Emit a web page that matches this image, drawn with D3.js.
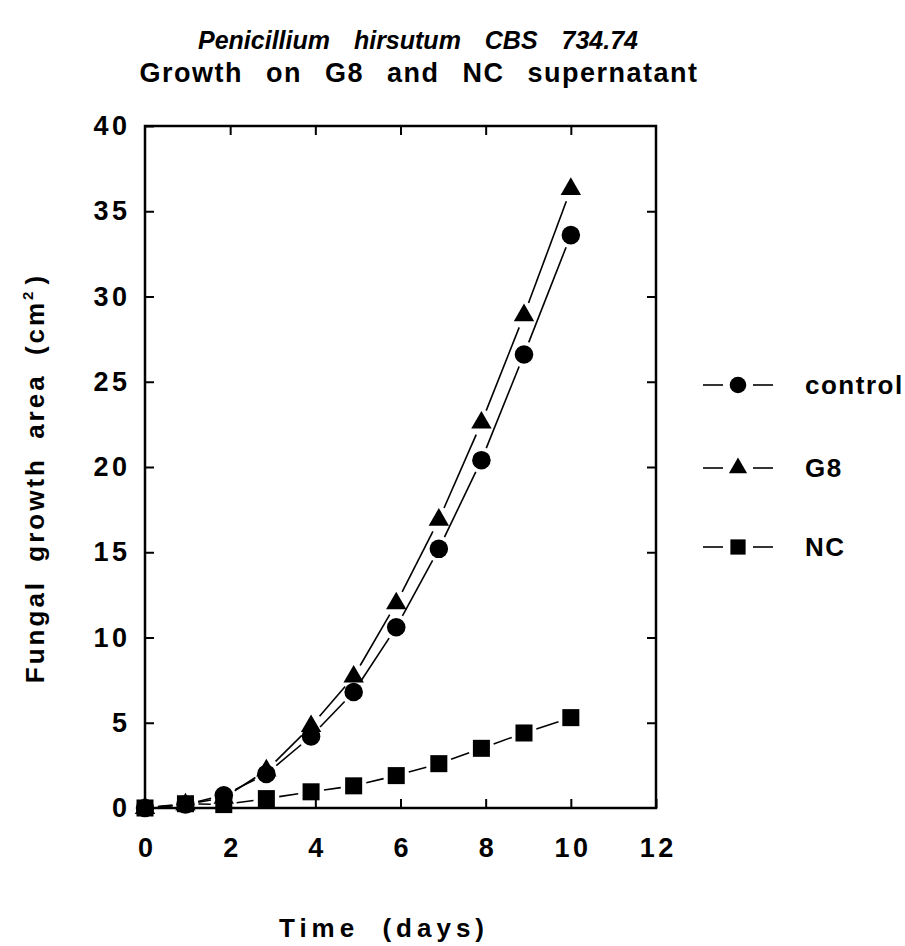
<!DOCTYPE html>
<html>
<head>
<meta charset="utf-8">
<script src="https://cdn.jsdelivr.net/npm/d3@7"></script>
<style>
  body { margin: 0; background: #fff; }
  text { font-family: "Liberation Sans", Arial, sans-serif; font-weight: bold; fill: #000; }
</style>
</head>
<body>
<svg id="chart"></svg>
<script>
const width = 905;
const height = 946;

// Data
const days      = [0, 0.95, 1.85, 2.85, 3.9, 4.9, 5.9, 6.9, 7.9, 8.9, 10];
const controlArea = [0, 0.2, 0.75, 2.0, 4.2, 6.8, 10.6, 15.2, 20.4, 26.6, 33.6];
const g8Area      = [0, 0.2, 0.6, 2.2, 4.8, 7.7, 12.0, 16.9, 22.6, 28.9, 36.3];
const ncArea      = [0, 0.25, 0.2, 0.55, 0.95, 1.3, 1.9, 2.6, 3.5, 4.4, 5.3];
const seriesNames = ["control", "G8", "NC"];
const xTicks = [0, 2, 4, 6, 8, 10, 12];
const yTicks = [0, 5, 10, 15, 20, 25, 30, 35, 40];

const margin = { left: 145, right: 656, top: 126, bottom: 808 };

let svg = d3.select("#chart")
  .attr("width", width)
  .attr("height", height);

const x = d3.scaleLinear().domain([0, 12]).range([margin.left, margin.right]);
const y = d3.scaleLinear().domain([0, 40]).range([margin.bottom, margin.top]);

// titles
svg.append("text")
  .attr("x", 418).attr("y", 49)
  .attr("text-anchor", "middle")
  .style("font-size", "25px").style("font-style", "italic")
  .style("word-spacing", "17px")
  .text("Penicillium hirsutum CBS 734.74");

svg.append("text")
  .attr("x", 419).attr("y", 82)
  .attr("text-anchor", "middle")
  .style("font-size", "27px")
  .style("letter-spacing", "1.5px")
  .style("word-spacing", "14px")
  .text("Growth on G8 and NC supernatant");

// axes (ticks point inward)
const bottomAxis = d3.axisBottom(x).tickValues(xTicks).tickSize(-9).tickPadding(30);
const leftAxis = d3.axisLeft(y).tickValues(yTicks).tickSize(-9).tickPadding(18);
const topAxis = d3.axisTop(x).tickValues(xTicks.slice(1, -1)).tickSize(-9).tickFormat("");
const rightAxis = d3.axisRight(y).tickValues(yTicks.slice(1, -1)).tickSize(-9).tickFormat("");

function styleAxis(g) {
  g.select(".domain").remove();
  g.selectAll(".tick line").attr("stroke", "#000").attr("stroke-width", 2);
  g.selectAll(".tick text")
    .style("font-size", "27px")
    .style("font-family", "'Liberation Sans', Arial, sans-serif")
    .style("font-weight", "bold")
    .style("letter-spacing", "3.5px");
}

svg.append("g").attr("transform", `translate(0,${margin.bottom})`).call(bottomAxis).call(styleAxis)
  .selectAll(".tick text").attr("dx", "1.75px");
svg.append("g").attr("transform", `translate(${margin.left},0)`).call(leftAxis).call(styleAxis)
  .selectAll(".tick text").attr("dx", "3.5px");
svg.append("g").attr("transform", `translate(0,${margin.top})`).call(topAxis).call(styleAxis);
svg.append("g").attr("transform", `translate(${margin.right},0)`).call(rightAxis).call(styleAxis);

// frame
svg.append("rect")
  .attr("x", margin.left).attr("y", margin.top)
  .attr("width", margin.right - margin.left)
  .attr("height", margin.bottom - margin.top)
  .attr("fill", "none")
  .attr("stroke", "#000")
  .attr("stroke-width", 2.5);

// axis titles
svg.append("text")
  .attr("transform", "translate(44,478) rotate(-90)")
  .attr("text-anchor", "middle")
  .style("font-size", "26px")
  .style("letter-spacing", "3px")
  .style("word-spacing", "8px")
  .html("Fungal growth area (cm<tspan dy='-11' style='font-size:15px'>2</tspan><tspan dy='11' dx='4'>)</tspan>");

svg.append("text")
  .attr("x", 384).attr("y", 937)
  .attr("text-anchor", "middle")
  .style("font-size", "26px")
  .style("letter-spacing", "5px")
  .style("word-spacing", "11px")
  .text("Time (days)");

// series
const symbols = [d3.symbolCircle, d3.symbolTriangle, d3.symbolSquare];
const symbolSizes = [270, 180, 290];
const seriesValues = [controlArea, g8Area, ncArea];

const gap = 13;
seriesValues.forEach(function (vals, si) {
  const pts = days.map((d, i) => [x(d), y(vals[i])]);
  const g = svg.append("g");

  // connecting segments, broken around each marker
  for (let i = 0; i < pts.length - 1; i++) {
    const [x0, y0] = pts[i];
    const [x1, y1] = pts[i + 1];
    const len = Math.hypot(x1 - x0, y1 - y0);
    if (len <= 2 * gap + 2) continue;
    const ux = (x1 - x0) / len, uy = (y1 - y0) / len;
    g.append("line")
      .attr("x1", x0 + ux * gap).attr("y1", y0 + uy * gap)
      .attr("x2", x1 - ux * gap).attr("y2", y1 - uy * gap)
      .attr("stroke", "#000")
      .attr("stroke-width", 1.6);
  }

  g.selectAll("path")
    .data(pts)
    .enter()
    .append("path")
    .attr("transform", d => `translate(${d[0]},${d[1]})`)
    .attr("d", d3.symbol().type(symbols[si]).size(symbolSizes[si]))
    .attr("fill", "#000");
});

// legend
const legendY = [385, 468, 547];
const legend = svg.append("g");
seriesNames.forEach(function (name, i) {
  const ly = legendY[i];
  legend.append("line").attr("x1", 703).attr("x2", 723).attr("y1", ly).attr("y2", ly)
    .attr("stroke", "#000").attr("stroke-width", 1.6);
  legend.append("line").attr("x1", 753).attr("x2", 773).attr("y1", ly).attr("y2", ly)
    .attr("stroke", "#000").attr("stroke-width", 1.6);
  legend.append("path")
    .attr("transform", `translate(738,${ly})`)
    .attr("d", d3.symbol().type(symbols[i]).size(symbolSizes[i] * 0.8))
    .attr("fill", "#000");
  legend.append("text")
    .attr("x", 805).attr("y", ly + 9)
    .style("font-size", "26px")
    .style("letter-spacing", "1.5px")
    .text(name);
});
</script>
</body>
</html>
